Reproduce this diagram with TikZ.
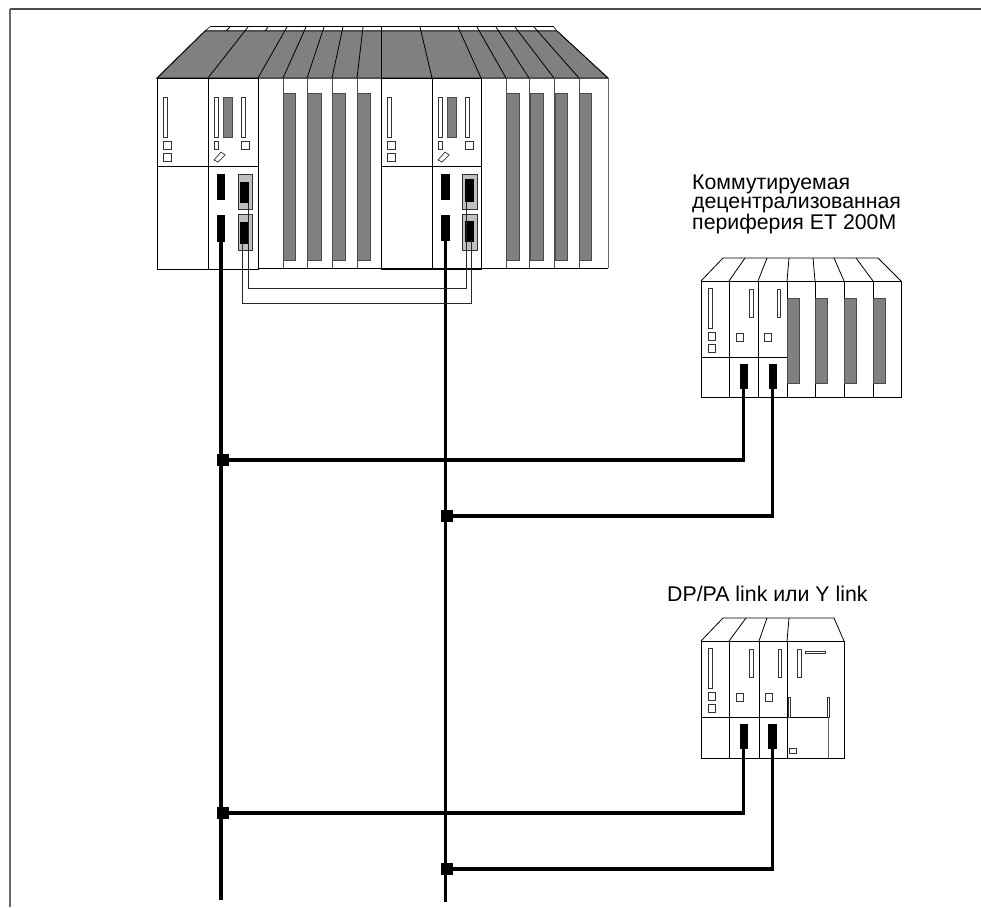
\documentclass[tikz,border=0pt]{standalone}
\usepackage{fontspec}
\setmainfont{Liberation Sans}
\usepackage{xcolor}
\usetikzlibrary{arrows.meta,positioning,fit,calc}
\definecolor{barfill}{gray}{0.5}
\definecolor{portfill}{gray}{0.75}
\definecolor{framegray}{gray}{0.3}
\tikzset{
  part/.style={draw=black, line width=0.8pt},
  thinpart/.style={draw=black!80, line width=0.7pt, fill=white},
  bar/.style={draw=black!70, line width=0.7pt, fill=barfill},
  plug/.style={draw=none, fill=black},
  port/.style={draw=black!80, line width=0.8pt, fill=portfill},
  bus/.style={draw=black, line width=3.6pt},
  stub/.style={draw=black, line width=3.2pt},
  ring/.style={draw=black!85, line width=0.8pt},
  tap/.style={rectangle, fill=black, inner sep=0pt, minimum size=12.5pt},
  lbl/.style={font=\fontsize{21.3}{19.6}\selectfont, align=left, inner sep=0pt, anchor=north west}
}
% power supply and cpu fronts of the station
\newcommand{\psslots}[1]{
  \path[thinpart] (#1+6,97) rectangle (#1+10,137);
  \path[thinpart] (#1+6,141) rectangle (#1+14,149);
  \path[thinpart] (#1+6,153) rectangle (#1+14,161);
}
\newcommand{\cpuslots}[1]{
  \path[thinpart] (#1+6,97) rectangle (#1+10,137);
  \path[bar] (#1+15,97) rectangle (#1+24,137);
  \path[thinpart] (#1+33,97) rectangle (#1+37,137);
  \path[thinpart] (#1+6,141) rectangle (#1+10,149);
  \path[thinpart] (#1+33,141) rectangle (#1+41,149);
  \path[thinpart] (#1+6,160) -- (#1+13,152) -- (#1+17,155) -- (#1+10,162) -- cycle;
}
% power supply and two interface modules
\newcommand{\imslots}[4]{
  \path[thinpart] (#1+7,#2+7) rectangle (#1+11,#2+47);
  \path[thinpart] (#1+7,#2+51) rectangle (#1+14,#2+59);
  \path[thinpart] (#1+7,#2+63) rectangle (#1+14,#2+71);
  \path[thinpart] (#3+20,#2+8) rectangle (#3+24,#2+36);
  \path[thinpart] (#3+7,#2+52) rectangle (#3+14,#2+60);
  \path[thinpart] (#4+19,#2+8) rectangle (#4+22,#2+36);
  \path[thinpart] (#4+6,#2+52) rectangle (#4+13,#2+60);
}
\begin{document}
\begin{tikzpicture}[x=1pt,y=-1pt]
\useasboundingbox (0,0) rectangle (981,907);
\fill[white] (0,0) rectangle (981,907);
% page frame
\draw[framegray, line width=2pt] (9.5,9) -- (981,9);
\draw[black!60, line width=1.2pt] (10,9) -- (10,907);

% redundant station
\fill[barfill] (157,78) -- (205,31) -- (557,31) -- (608,78) -- cycle;
\draw[part, line width=1pt] (157,78) -- (205,31) -- (557,31) -- (608,78) -- cycle;
\draw[part, line width=0.6pt] (211,26) -- (553,26);
\draw[part, line width=0.6pt] (205,31) -- (211,26) (553,26) -- (557,31);
\foreach \xa/\xb in {208/248,258/287,283/306,307/324,332/343,357/363,381/381,432/420,481/458,506/477,529/496,554/515,579/534}
  \draw[part] (\xa,78) -- (\xb,27);
\draw[part] (226,31) -- (230,27) (265,31) -- (268,27);
\draw[part] (157,78) rectangle (258,269);
\draw[part] (208,78) -- (208,269);
\draw[part] (157,166) -- (258,166);
\draw[part] (381,78) rectangle (481,269);
\draw[part] (432,78) -- (432,269);
\draw[part] (381,166) -- (482,166);
\draw[part] (258,268) -- (608,268);
\draw[black!60, line width=0.8pt] (608,78) -- (608,268);
\foreach \xa in {283,307,332,357,506,529,554,579}
  \draw[black!70, line width=0.8pt] (\xa,78) -- (\xa,268);
\foreach \xa/\xb in {283/295,307/321,332/345,357/370,506/519,530/543,555/567,579/591}
  \path[bar] (\xa,93) rectangle (\xb,260);
\psslots{157}
\psslots{381}
\cpuslots{208}
\cpuslots{432}
\path[plug] (217,174) rectangle (225,200);
\path[plug] (441,174) rectangle (450,200);
\node[plug, minimum width=8pt, minimum height=27pt, inner sep=0pt] (plugA) at (221,228) {};
\node[plug, minimum width=9pt, minimum height=26pt, inner sep=0pt] (plugB) at (445.5,228) {};
\path[port] (238,174) rectangle (252,209);
\path[port] (238,214) rectangle (252,250);
\path[port] (462,174) rectangle (477,209);
\path[port] (462,214) rectangle (477,250);
\node[plug, minimum width=9pt, minimum height=21pt, inner sep=0pt] (syncA) at (244.5,192.5) {};
\node[plug, minimum width=9pt, minimum height=22pt, inner sep=0pt] (syncB) at (244.5,233) {};
\node[plug, minimum width=9pt, minimum height=23pt, inner sep=0pt] (syncC) at (469.5,190.5) {};
\node[plug, minimum width=9pt, minimum height=21pt, inner sep=0pt] (syncD) at (469.5,231.5) {};

% switched ET 200M
\node[lbl] (etlabel) at (692,174.5) {Коммутируемая\\децентрализованная\\периферия ET 200M};
\draw[part] (701,281) -- (723,258) -- (878,258) -- (901,281);
\foreach \xa/\xb in {729/745,758/767,787/789,815/813,844/834,873/856}
  \draw[part] (\xa,281) -- (\xb,258);
\draw[part] (701,281) rectangle (901,397);
\draw[part] (701,357) -- (787,357);
\foreach \xa in {729,758,787,815,844,873}
  \draw[part] (\xa,281) -- (\xa,397);
\foreach \xa in {787,815,844,873}
  \path[bar] (\xa,298) rectangle (\xa+12,383);
\imslots{701}{281}{729}{758}
\node[plug, minimum width=8pt, minimum height=25pt, inner sep=0pt] (plugC) at (743.5,376.5) {};
\node[plug, minimum width=8pt, minimum height=25pt, inner sep=0pt] (plugD) at (772.5,376.5) {};

% DP/PA link
\node[lbl, anchor=base west] (linklabel) at (667,601) {DP/PA link или Y link};
\draw[part] (701,641) -- (723,618) -- (834,618) -- (844,641);
\foreach \xa/\xb in {729/746,759/767,787/789}
  \draw[part] (\xa,641) -- (\xb,618);
\draw[part] (701,641) rectangle (844,758);
\foreach \xa in {729,759,787}
  \draw[part] (\xa,641) -- (\xa,758);
\draw[part] (701,717) -- (829,717);
\draw[black!60, line width=0.7pt] (828,717) -- (828,758);
\imslots{701}{641}{729}{759}
\path[thinpart] (797,649) rectangle (801,677);
\path[thinpart] (805,651) rectangle (825,653);
\path[thinpart] (788,697) rectangle (790,717);
\path[thinpart] (827,697) rectangle (829,717);
\path[thinpart] (789,748) rectangle (796,753);
\node[plug, minimum width=8pt, minimum height=25pt, inner sep=0pt] (plugE) at (743.5,736.5) {};
\node[plug, minimum width=9pt, minimum height=25pt, inner sep=0pt] (plugF) at (772.5,736.5) {};

% PROFIBUS lines
\coordinate (endA) at (221,900);
\coordinate (endB) at (446,902);
\draw[bus] (plugA.south) -- (plugA.south |- endA);
\draw[bus] (plugB.south) -- (plugB.south |- endB);
\node[tap] (tapA) at (223,460) {};
\node[tap] (tapB) at (447,516) {};
\node[tap] (tapC) at (223,813) {};
\node[tap] (tapD) at (447,869) {};
\draw[stub] (tapA.center) -| (plugC.south);
\draw[stub] (tapB.center) -| (plugD.south);
\draw[stub] (tapC.center) -| (plugE.south);
\draw[stub] (tapD.center) -| (plugF.south);

% sync cables
\draw[ring] (syncA.center) ++(3.5,10) -- ++(0,86) -| ($(syncC.center)+(-3.5,10)$);
\draw[ring] (syncB.center) ++(-2.5,10) -- ++(0,60) -| ($(syncD.center)+(1.5,8)$);
\end{tikzpicture}
\end{document}
